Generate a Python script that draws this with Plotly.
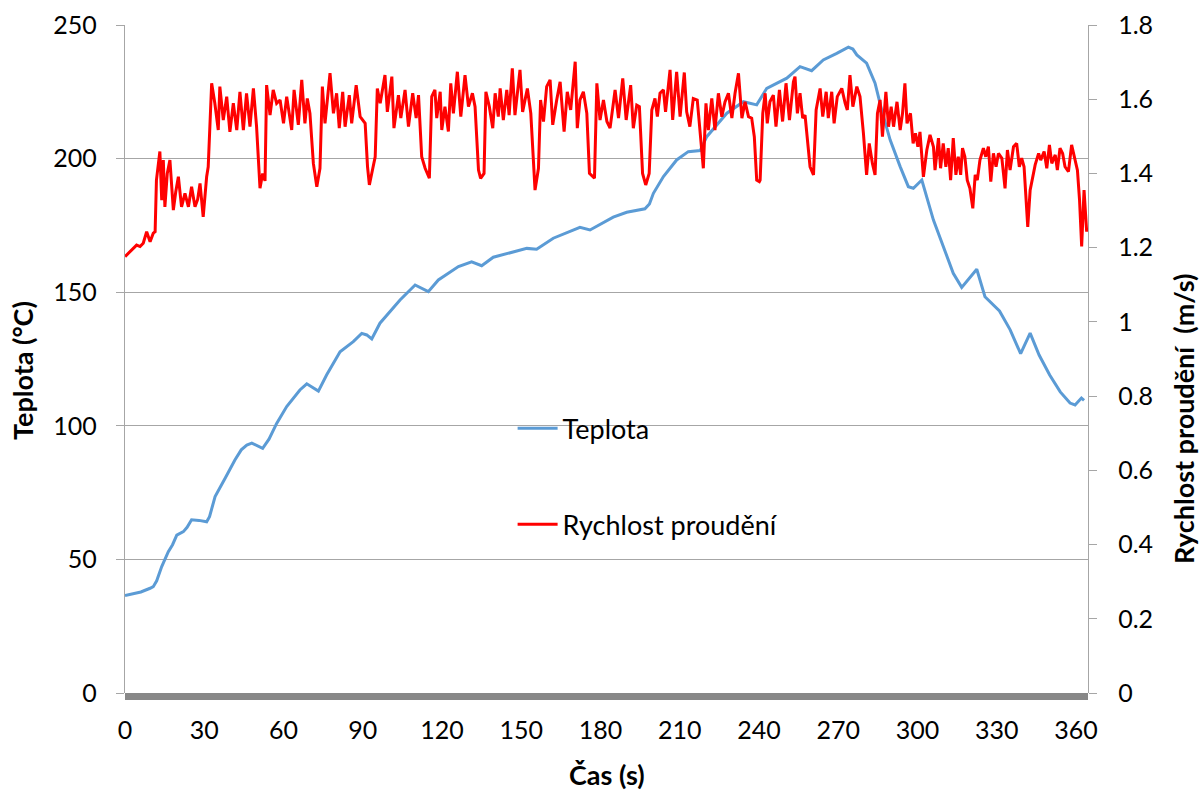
import plotly.graph_objects as go

# ---- Teplota (°C) vs. čas (s) ----
temp_t = [0, 3, 6, 9.5, 10.7, 12, 13.9, 16.4, 18, 19.6, 22.1, 23.5, 25.2, 28, 30.9, 32, 34.1, 37.9,
          41.6, 44, 46.1, 48.0, 52.1, 54.5, 57.4, 61.2, 66.2, 68.8, 71, 73.2, 76.3, 81.4, 86.4, 89.6,
          91.5, 93.4, 96.5, 102.8, 104.1, 109.8, 112, 114.8, 118.6, 126.2, 131.2, 135.0, 139.4, 147.0,
          152.1, 155.8, 162.1, 172.2, 176.0, 184.8, 189.9, 196.8, 198.5, 200.0, 203.8, 208.8, 213.2,
          217.7, 220.2, 227.8, 234.1, 239.1, 242.9, 250.5, 255.5, 259.9, 264.3, 269.4, 273.8, 275.5,
          277.0, 280.7, 283.9, 286.4, 289.6, 293.4, 296.5, 298.4, 301.6, 306.0, 311.0, 313.5, 316.7,
          319.2, 322.4, 325.5, 331, 335, 339, 342.6, 346, 350, 354, 357.7, 359.6, 362, 363]
temp_v = [36.5, 37.2, 37.8, 39.2, 39.8, 42, 47.3, 52.9, 55.5, 59.1, 60.4, 62, 64.8, 64.6, 64.1, 66, 73.5, 80.4,
          87.2, 91, 92.8, 93.5, 91.6, 95, 100.9, 107.2, 113.4, 115.7, 114.5, 113.0, 119.0, 127.7, 131.5, 134.6,
          134, 132.5, 138.4, 145.9, 147.1, 152.7, 151.5, 150.2, 154.6, 159.6, 161.4, 159.9, 163.1, 165.2,
          166.4, 166.1, 170.2, 174.3, 173.3, 178.1, 179.9, 181.2, 183, 187.0, 193.3, 199.5, 202.6,
          203.0, 208.2, 217.0, 221.3, 220.1, 226.3, 230.1, 234.4, 232.9, 236.9, 239.4, 241.7, 241,
          238.8, 235.7, 228.2, 218.2, 207.0, 197.0, 189.5, 188.9, 192.0, 177.0, 163.3, 157.1, 151.8,
          154.6, 158.6, 148.3, 143, 136, 127, 134.7, 126.5, 119, 112.7, 108.5, 107.8, 110.4, 109.5]

# ---- Rychlost proudění (m/s) vs. čas (s) ----
vel_t = [0, 1.9, 3.2, 4.4, 5.7, 6.9, 8.2, 9.5, 10.7, 11.4, 11.9, 13.2, 13.9, 14.5, 15.1, 16.0, 17.0, 18.3,
         19.2, 20.2, 21.4, 22.7, 24.0, 25.2, 26.5, 27.5, 28.4, 29.6, 30.9, 31.5, 32.8, 34.0, 35.3, 35.9,
         37.2, 38.5, 39.7, 41.0, 42.3, 43.5, 44.8, 46.0, 47.3, 48.6, 49.8, 50.5, 51.1, 52.1, 53.0, 53.6,
         54.9, 56.1, 57.4, 58.7, 60.0, 61.2, 63.1, 64.0, 65.6, 66.9, 68.1, 69.0, 70.0, 71.3, 72.6, 73.8,
         74.7, 75.7, 77.6, 78.9, 80.1, 81.1, 82.4, 83.3, 84.9, 85.8, 87.5, 89.0, 90.9, 91.8, 92.5, 93.8,
         94.7, 95.5, 96.6, 98.4, 99.3, 101.0, 101.8, 103.5, 104.4, 106.0, 107.3, 108.9, 110.2, 111.1,
         112.3, 113.6, 115.2, 116.1, 117.3, 118.0, 119.3, 119.9, 121.1, 122.4, 123.3, 124.3, 125.8,
         127.1, 128.7, 130.0, 131.5, 132.5, 133.8, 134.6, 135.9, 136.6, 137.9, 139.2, 140.1, 141.3,
         142.0, 143.2, 144.5, 145.4, 146.6, 147.6, 149.5, 150.5, 152.3, 153.6, 154.6, 155.2, 156.5,
         157.3, 158.4, 159.6, 160.9, 161.9, 163.4, 164.7, 166.2, 167.4, 168.7, 170.4, 171.2, 172.2,
         173.5, 174.8, 175.8, 177.1, 177.7, 178.6, 179.8, 181.1, 182.4, 183.6, 185.5, 186.8, 188.4,
         189.7, 191.4, 192.4, 193.7, 194.7, 195.9, 197.1, 198.4, 199.4, 200.6, 201.5, 202.5, 203.8,
         204.6, 206.3, 207.3, 208.8, 210.1, 211.7, 212.6, 213.8, 215.1, 216.6, 217.6, 218.9, 219.9,
         220.8, 222.1, 223.3, 224.6, 225.9, 227.1, 228.4, 229.7, 230.9, 232.2, 233.5, 234.7, 236.0,
         237.2, 238.2, 239.1, 240.1, 240.4, 241.4, 242.3, 243.1, 244.1, 245.4, 246.4, 247.7, 248.9,
         250.2, 251.5, 253.0, 253.6, 254.5, 255.5, 256.5, 257.4, 258.3, 259.3, 260.6, 261.6, 263.1,
         264.1, 265.4, 266.2, 267.5, 268.4, 269.6, 271.3, 272.6, 273.4, 274.4, 275.5, 277.0, 278.2,
         279.5, 280.7, 281.7, 282.9, 283.9, 284.8, 285.8, 286.7, 288.0, 289.0, 290.0, 290.9, 292.2,
         293.4, 294.3, 295.2, 296.0, 297.3, 298.3, 299.2, 300.1, 300.9, 302.2, 303.5, 304.7, 306.0,
         306.6, 307.9, 308.7, 309.7, 310.7, 311.6, 312.5, 313.5, 314.5, 315.4, 316.3, 317.0, 317.9,
         318.8, 319.8, 320.9, 321.8, 322.6, 323.6, 324.9, 325.8, 326.8, 327.7, 328.7, 329.7, 330.6,
         331.9, 333.1, 334.0, 335.0, 336.3, 337.5, 338.5, 339.4, 340.3, 341.1, 341.7, 342.6, 343.6,
         344.5, 345.8, 346.6, 347.9, 348.9, 349.9, 350.8, 352.1, 352.9, 353.9, 354.9, 355.8, 357.1,
         358.3, 359.6, 360.5, 361.3, 362.1, 363.0, 364.0]
vel_v = [1.176, 1.189, 1.198, 1.207, 1.203, 1.212, 1.243, 1.216, 1.239, 1.243, 1.382, 1.459, 1.328, 1.436,
         1.310, 1.400, 1.436, 1.301, 1.350, 1.391, 1.310, 1.346, 1.310, 1.364, 1.310, 1.330, 1.373, 1.283,
         1.391, 1.418, 1.643, 1.589, 1.517, 1.634, 1.544, 1.607, 1.512, 1.589, 1.517, 1.620, 1.517, 1.616,
         1.526, 1.629, 1.526, 1.427, 1.360, 1.400, 1.380, 1.638, 1.557, 1.625, 1.589, 1.598, 1.535, 1.607,
         1.517, 1.625, 1.531, 1.652, 1.535, 1.602, 1.562, 1.427, 1.364, 1.414, 1.634, 1.535, 1.670, 1.562,
         1.616, 1.522, 1.620, 1.526, 1.611, 1.535, 1.638, 1.553, 1.535, 1.418, 1.369, 1.414, 1.445, 1.629,
         1.589, 1.665, 1.566, 1.661, 1.522, 1.611, 1.549, 1.625, 1.526, 1.616, 1.549, 1.611, 1.445, 1.414,
         1.387, 1.607, 1.625, 1.549, 1.620, 1.517, 1.580, 1.513, 1.643, 1.562, 1.674, 1.553, 1.665, 1.580,
         1.616, 1.580, 1.409, 1.387, 1.400, 1.620, 1.580, 1.522, 1.616, 1.553, 1.629, 1.544, 1.625, 1.557,
         1.683, 1.557, 1.679, 1.566, 1.629, 1.562, 1.436, 1.355, 1.414, 1.598, 1.540, 1.634, 1.652, 1.531,
         1.598, 1.647, 1.513, 1.620, 1.571, 1.701, 1.522, 1.598, 1.620, 1.562, 1.400, 1.391, 1.387, 1.643,
         1.544, 1.598, 1.540, 1.522, 1.625, 1.549, 1.656, 1.544, 1.638, 1.522, 1.584, 1.580, 1.400, 1.369,
         1.400, 1.571, 1.602, 1.553, 1.616, 1.625, 1.566, 1.679, 1.544, 1.674, 1.553, 1.672, 1.566, 1.526,
         1.602, 1.598, 1.508, 1.414, 1.589, 1.517, 1.602, 1.517, 1.616, 1.553, 1.593, 1.616, 1.549, 1.616,
         1.670, 1.549, 1.593, 1.553, 1.549, 1.499, 1.382, 1.378, 1.382, 1.562, 1.616, 1.535, 1.593, 1.611,
         1.526, 1.625, 1.540, 1.643, 1.544, 1.647, 1.661, 1.562, 1.616, 1.549, 1.557, 1.499, 1.418, 1.396,
         1.571, 1.629, 1.553, 1.620, 1.549, 1.620, 1.535, 1.607, 1.629, 1.589, 1.571, 1.665, 1.580, 1.634,
         1.607, 1.508, 1.396, 1.481, 1.427, 1.396, 1.562, 1.598, 1.499, 1.620, 1.526, 1.580, 1.526, 1.593,
         1.517, 1.562, 1.643, 1.535, 1.562, 1.481, 1.508, 1.472, 1.512, 1.391, 1.463, 1.504, 1.472, 1.409,
         1.495, 1.414, 1.481, 1.418, 1.468, 1.382, 1.495, 1.396, 1.445, 1.396, 1.468, 1.445, 1.382, 1.360,
         1.306, 1.396, 1.382, 1.436, 1.468, 1.445, 1.472, 1.378, 1.454, 1.418, 1.454, 1.441, 1.360, 1.463,
         1.409, 1.472, 1.481, 1.418, 1.441, 1.418, 1.328, 1.256, 1.355, 1.387, 1.423, 1.454, 1.436, 1.459,
         1.414, 1.477, 1.427, 1.450, 1.409, 1.468, 1.454, 1.418, 1.405, 1.477, 1.441, 1.409, 1.328, 1.203,
         1.355, 1.243]

x_ticks = [0, 30, 60, 90, 120, 150, 180, 210, 240, 270, 300, 330, 360]

FONT = "Lato"
GRID = "#A6A6A6"
TICK_SIZE = 25
TITLE_SIZE = 27

fig = go.Figure()
fig.add_trace(go.Scatter(x=temp_t, y=temp_v, name="Teplota", mode="lines",
                         line=dict(color="#5B9BD5", width=3), legendgroup="a"))
fig.add_trace(go.Scatter(x=vel_t, y=vel_v, name="Rychlost proudění", mode="lines",
                         line=dict(color="#FF0000", width=3), yaxis="y2", legendgroup="b"))

fig.update_layout(
    width=1200, height=793,
    margin=dict(l=125, r=112, t=25, b=100, autoexpand=False),
    paper_bgcolor="white", plot_bgcolor="white",
    font=dict(family=FONT, size=TICK_SIZE, color="black"),
    xaxis=dict(range=[0, 364.5], tickvals=x_ticks, ticks="", showgrid=False, zeroline=False,
               showline=False, ticklabelstandoff=20, tickfont=dict(size=TICK_SIZE)),
    yaxis=dict(range=[0, 250], dtick=50, showgrid=True, gridcolor=GRID, gridwidth=1.3,
               zeroline=False, showline=True, linecolor=GRID, linewidth=1.3,
               ticks="outside", ticklen=8, tickcolor=GRID, tickwidth=1.3,
               ticklabelstandoff=14, tickfont=dict(size=TICK_SIZE)),
    yaxis2=dict(range=[0, 1.8], dtick=0.2, overlaying="y", side="right", showgrid=False,
                zeroline=False, showline=True, linecolor=GRID, linewidth=1.3,
                ticks="outside", ticklen=8, tickcolor=GRID, tickwidth=1.3,
                ticklabelstandoff=16, tickfont=dict(size=TICK_SIZE)),
    legend=dict(x=0.4025, y=0.4325, xanchor="left", yanchor="top", bgcolor="rgba(0,0,0,0)",
                font=dict(size=27), tracegroupgap=58, itemwidth=40),
    showlegend=True,
    shapes=[dict(type="rect", xref="paper", yref="paper", x0=0, x1=1, y0=0, y1=-0.0105,
                 fillcolor="#888888", line=dict(width=0), layer="above")],
    annotations=[
        dict(text="<b>Teplota (°C)</b>", xref="paper", yref="paper", x=-0.107, y=0.4835,
             xanchor="center", yanchor="middle",
             textangle=-90, showarrow=False, font=dict(size=TITLE_SIZE)),
        dict(text="<b>Rychlost proudění \u00a0(m/s)</b>", xref="paper", yref="paper", x=1.0985, y=0.41,
             xanchor="center", yanchor="middle",
             textangle=-90, showarrow=False, font=dict(size=TITLE_SIZE)),
        dict(text="<b>Čas (s)</b>", xref="paper", yref="paper", x=0.5, y=-0.1225,
             xanchor="center", yanchor="middle",
             showarrow=False, font=dict(size=TITLE_SIZE)),
    ],
)

fig.write_html("out.html")
